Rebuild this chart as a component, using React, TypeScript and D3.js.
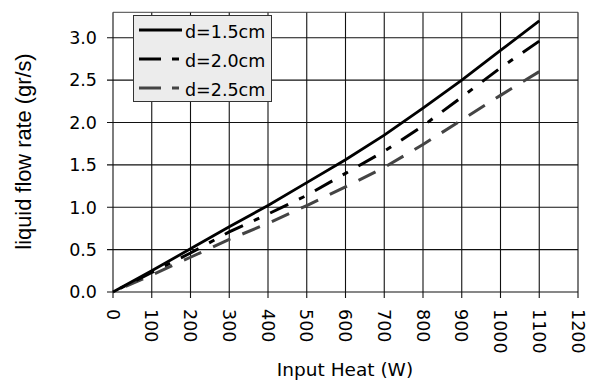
import * as d3 from 'd3';

const heat = [0, 100, 200, 300, 400, 500, 600, 700, 800, 900, 1000, 1100];
const flow15 = [0, 0.25, 0.51, 0.77, 1.02, 1.29, 1.56, 1.85, 2.17, 2.5, 2.85, 3.2];
const flow20 = [0, 0.23, 0.46, 0.71, 0.92, 1.14, 1.4, 1.66, 1.96, 2.3, 2.645, 2.96];
const flow25 = [0, 0.2, 0.41, 0.62, 0.81, 1.02, 1.24, 1.47, 1.74, 2.03, 2.32, 2.6];
const xTicks = [0, 100, 200, 300, 400, 500, 600, 700, 800, 900, 1000, 1100, 1200];
const yTicks = [0, 0.5, 1, 1.5, 2, 2.5, 3];

const series = [
  { label: 'd=1.5cm', values: flow15, color: '#000', dash: '', width: 2.8 },
  { label: 'd=2.0cm', values: flow20, color: '#000', dash: '20,12,6,12', width: 3 },
  { label: 'd=2.5cm', values: flow25, color: '#444', dash: '19,13', width: 3 },
];

const W = 599;
const H = 385;
const tickFont = 'DejaVu Sans, Verdana, sans-serif';

export default function App() {
  const x = d3.scaleLinear().domain([0, 1200]).range([113, 578]);
  const y = d3.scaleLinear().domain([0, 3.3]).range([292, 12.3]);
  // drawn from the right end back to 0 so the dash pattern starts at the last point
  const line = d3
    .line<[number, number]>()
    .x((d) => x(d[0]))
    .y((d) => y(d[1]));
  const pts = (vals: number[]) => heat.map((h, i) => [h, vals[i]] as [number, number]).reverse();

  return (
    <svg width={W} height={H} style={{ position: 'absolute', left: 0, top: 0, background: '#fff' }}>
      {/* grid */}
      {xTicks.map((t) => (
        <line key={'gx' + t} x1={x(t)} x2={x(t)} y1={y(3.3)} y2={y(0) + 6} stroke="#111" strokeWidth={1.1} />
      ))}
      {yTicks.map((t) => (
        <line key={'gy' + t} x1={x(0) - 6} x2={x(1200)} y1={y(t)} y2={y(t)} stroke="#111" strokeWidth={1.1} />
      ))}
      <line x1={x(0)} x2={x(1200)} y1={y(3.3)} y2={y(3.3)} stroke="#444" strokeWidth={1} />

      {/* series */}
      {series
        .slice()
        .reverse()
        .map((s) => (
          <path
            key={s.label}
            d={line(pts(s.values)) ?? ''}
            fill="none"
            stroke={s.color}
            strokeWidth={s.width}
            strokeDasharray={s.dash || undefined}
          />
        ))}

      {/* y tick labels */}
      {yTicks.map((t) => (
        <text
          key={'ly' + t}
          x={x(0) - 16}
          y={y(t)}
          dy="0.36em"
          textAnchor="end"
          fontFamily={tickFont}
          fontSize={17.5}
          fill="#000"
        >
          {d3.format('.1f')(t)}
        </text>
      ))}

      {/* x tick labels, rotated */}
      {xTicks.map((t) => (
        <text
          key={'lx' + t}
          transform={`translate(${x(t)},${y(0) + 17}) rotate(90)`}
          dy="0.36em"
          textAnchor="start"
          fontFamily={tickFont}
          fontSize={17.5}
          fill="#000"
        >
          {t}
        </text>
      ))}

      <text x={345} y={376} textAnchor="middle" fontFamily={tickFont} fontSize={18.5} fill="#000">
        Input Heat (W)
      </text>
      <text
        transform={`translate(31,${151.5}) rotate(-90)`}
        textAnchor="middle"
        fontFamily="Liberation Sans, Arial, sans-serif"
        fontSize={21.8}
        fill="#000"
      >
        liquid flow rate (gr/s)
      </text>

      {/* legend */}
      <rect x={133.5} y={15.5} width={138} height={86} fill="#ececec" stroke="#333" strokeWidth={1} />
      {series.map((s, i) => (
        <g key={'lg' + s.label} transform={`translate(0,${30 + i * 29})`}>
          <line
            x1={139}
            x2={182}
            y1={0}
            y2={0}
            stroke={s.color}
            strokeWidth={s.width}
            strokeDasharray={s.dash ? '22,11,7,11' : undefined}
          />
          <text x={185} y={2} dy="0.36em" fontFamily={tickFont} fontSize={17.5} fill="#000">
            {s.label}
          </text>
        </g>
      ))}
    </svg>
  );
}
